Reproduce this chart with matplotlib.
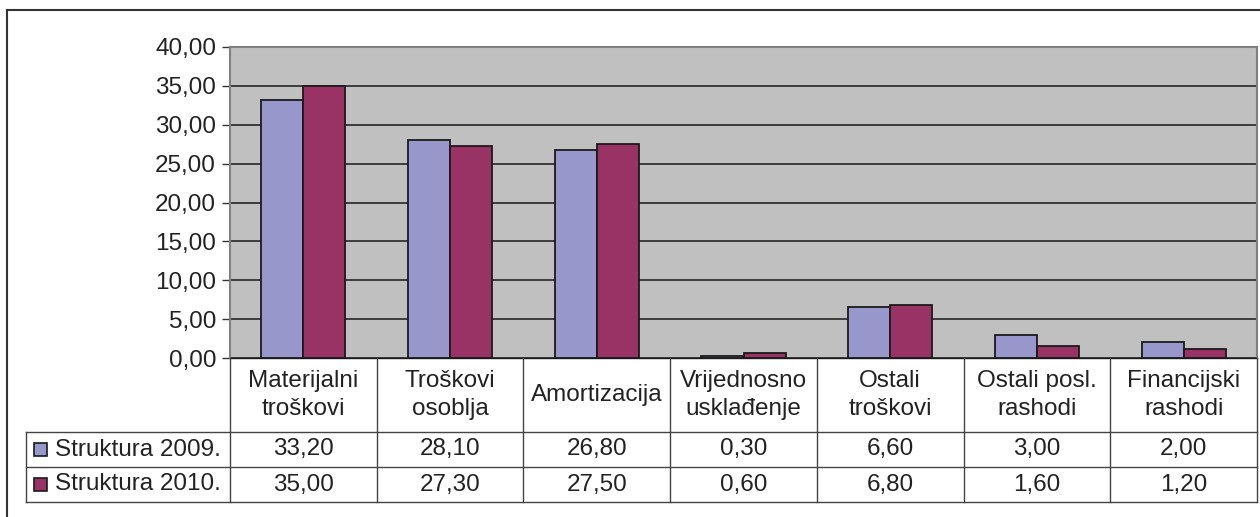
import matplotlib.pyplot as plt
import matplotlib.transforms as mtransforms
from matplotlib.lines import Line2D
from matplotlib.patches import Rectangle

plt.rcParams['font.family'] = ['Liberation Sans', 'DejaVu Sans']

categories = ['Materijalni\ntroškovi', 'Troškovi\nosoblja', 'Amortizacija',
              'Vrijednosno\nusklađenje', 'Ostali\ntroškovi', 'Ostali posl.\nrashodi',
              'Financijski\nrashodi']
series_names = ['Struktura 2009.', 'Struktura 2010.']
s2009 = [33.20, 28.10, 26.80, 0.30, 6.60, 3.00, 2.00]
s2010 = [35.00, 27.30, 27.50, 0.60, 6.80, 1.60, 1.20]
yticks = [0, 5, 10, 15, 20, 25, 30, 35, 40]

colors = ['#9797CB', '#993366']
txt = '#222222'
fs = 17.5

W, H = 1260, 517
fig = plt.figure(figsize=(W / 100, H / 100), dpi=100)


def fy(py):
    return 1 - py / H


def fx(px):
    return px / W


ax = fig.add_axes([fx(230), fy(358), fx(1257) - fx(230), fy(47) - fy(358)])
ax.set_facecolor('#C0C0C0')

n = len(categories)
x = list(range(n))
bw = 0.2865
ax.bar([i - bw / 2 for i in x], s2009, bw, color=colors[0], edgecolor='#1a1a1a', linewidth=1.3, zorder=3)
ax.bar([i + bw / 2 for i in x], s2010, bw, color=colors[1], edgecolor='#1a1a1a', linewidth=1.3, zorder=3)

ax.set_xlim(-0.5, n - 0.5)
ax.set_ylim(0, 40)
ax.set_yticks(yticks)
ax.set_yticklabels([f'{v:.2f}'.replace('.', ',') for v in yticks], fontsize=fs, color=txt)
ax.set_xticks([])
ax.yaxis.grid(True, color='#1a1a1a', linewidth=1.1)
ax.set_axisbelow(True)
ax.tick_params(axis='y', length=6, width=1, color='#333333', pad=4)
for s in ax.spines.values():
    s.set_color('#808080')
    s.set_linewidth(1.5)
ax.spines['bottom'].set_color('#1a1a1a')
ax.spines['bottom'].set_linewidth(1)

# outer chart frame
fig.add_artist(Line2D([fx(7), fx(7)], [0, fy(10)], transform=fig.transFigure, color='#333333', lw=1.5))
fig.add_artist(Line2D([fx(7), 1], [fy(10), fy(10)], transform=fig.transFigure, color='#333333', lw=1.5))

# data table
trans = mtransforms.blended_transform_factory(ax.transData, fig.transFigure)
lc = '#444444'
y_top, y_h, y_r1, y_bot = fy(358), fy(432), fy(467), fy(502)
for yy in [y_h, y_r1, y_bot]:
    fig.add_artist(Line2D([fx(26), fx(1257)], [yy, yy], transform=fig.transFigure, color=lc, lw=1))
fig.add_artist(Line2D([fx(26), fx(26)], [y_h, y_bot], transform=fig.transFigure, color=lc, lw=1))
for b in [i - 0.5 for i in range(n + 1)]:
    fig.add_artist(Line2D([b, b], [y_top, y_bot], transform=trans, color=lc, lw=1))

y_hc = (y_top + y_h) / 2
rows = [(s2009, (y_h + y_r1) / 2), (s2010, (y_r1 + y_bot) / 2)]
for i, c in enumerate(categories):
    fig.text(i, y_hc, c, transform=trans, ha='center', va='center', fontsize=fs,
             color=txt, linespacing=1.3)
    for vals, yc in rows:
        fig.text(i, yc, f'{vals[i]:.2f}'.replace('.', ','), transform=trans,
                 ha='center', va='center', fontsize=fs, color=txt)

for k, (vals, yc) in enumerate(rows):
    fig.add_artist(Rectangle((fx(34), yc - 6.5 / H), 13 / W, 13 / H, transform=fig.transFigure,
                             facecolor=colors[k], edgecolor='#1a1a1a', lw=1.2))
    fig.text(fx(55), yc, series_names[k], ha='left', va='center', fontsize=fs, color=txt)

fig.savefig('out.png', dpi=100)
